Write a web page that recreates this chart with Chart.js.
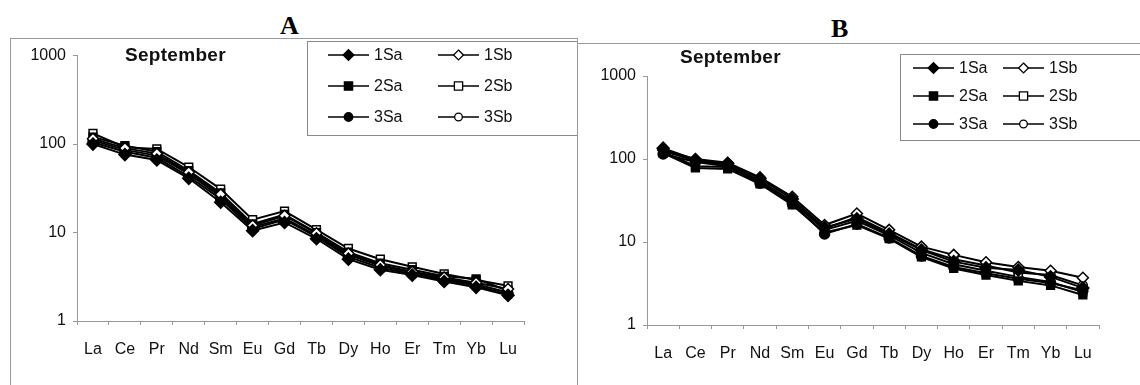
<!DOCTYPE html>
<html>
<head>
<meta charset="utf-8">
<script src="https://cdn.jsdelivr.net/npm/chart.js@4"></script>
<style>
  body { margin: 0; background: #fff; width: 1140px; height: 385px; position: relative; overflow: hidden; font-family: "Liberation Sans", Arial, sans-serif; }
  .panel { position: absolute; border: 1px solid #9a9a9a; box-sizing: border-box; }
  #panelA { left: 10px; top: 38px; width: 568px; height: 350px; }
  #panelB { left: 577px; top: 43px; width: 570px; height: 345px; }
  .letter { position: absolute; font-family: "Liberation Serif", "DejaVu Serif", serif; font-weight: bold; font-size: 26px; line-height: 26px; }
  .month { position: absolute; font-weight: bold; font-size: 19px; line-height: 19px; letter-spacing: 0.3px; color: #111; }
</style>
</head>
<body>
<div class="letter" style="left:280px; top:13px;">A</div>
<div class="letter" style="left:831px; top:16px;">B</div>
<div class="panel" id="panelA"><canvas id="chartA"></canvas></div>
<div class="panel" id="panelB"><canvas id="chartB"></canvas></div>
<div class="month" style="left:125px; top:45px;">September</div>
<div class="month" style="left:680px; top:47px;">September</div>
<script>
// Categories and axis ticks
const elements = ['La', 'Ce', 'Pr', 'Nd', 'Sm', 'Eu', 'Gd', 'Tb', 'Dy', 'Ho', 'Er', 'Tm', 'Yb', 'Lu'];
const yTicks = [1, 10, 100, 1000];
const seriesNames = ['1Sa', '1Sb', '2Sa', '2Sb', '3Sa', '3Sb'];

// Panel A values
const a1Sa = [100, 76, 66, 41, 22, 10.5, 13, 8.5, 5.0, 3.8, 3.3, 2.8, 2.4, 1.95];
const a1Sb = [115, 90, 78, 48, 27, 12, 15.5, 9.8, 5.8, 4.3, 3.6, 3.1, 2.7, 2.3];
const a2Sa = [120, 96, 82, 50, 28, 12.5, 16, 10, 6.0, 4.5, 3.8, 3.2, 3.0, 2.2];
const a2Sb = [132, 92, 88, 55, 31, 14, 17.5, 10.8, 6.6, 5.0, 4.1, 3.4, 2.9, 2.5];
const a3Sa = [105, 82, 70, 43, 24, 11, 14, 9, 5.3, 4.0, 3.4, 2.9, 2.5, 2.0];
const a3Sb = [110, 86, 74, 46, 25.5, 11.5, 14.5, 9.3, 5.6, 4.2, 3.5, 3.0, 2.6, 2.1];

// Panel B values
const b1Sa = [135, 98, 88, 58, 33, 15, 19, 12.5, 8.0, 5.8, 4.9, 4.6, 3.8, 2.8];
const b1Sb = [128, 100, 90, 60, 35, 16, 22, 14, 8.8, 7.0, 5.7, 5.0, 4.5, 3.7];
const b2Sa = [118, 78, 76, 50, 28, 13, 16, 11, 6.6, 4.8, 4.0, 3.4, 3.0, 2.3];
const b2Sb = [122, 82, 80, 53, 30, 14, 18, 12, 7.4, 5.4, 4.5, 3.8, 3.3, 2.5];
const b3Sa = [115, 92, 82, 51, 29, 12.5, 16.5, 11.2, 6.8, 5.0, 4.2, 3.6, 3.2, 2.6];
const b3Sb = [125, 95, 85, 55, 31, 14.5, 20, 13, 8.2, 6.2, 5.2, 4.3, 4.0, 3.0];

// marker shape and fill per series
const markers = {
  '1Sa': { style: 'rectRot', r: 6, filled: true },
  '1Sb': { style: 'rectRot', r: 5.5, filled: false },
  '2Sa': { style: 'rect', r: 5.5, filled: true },
  '2Sb': { style: 'rect', r: 5.5, filled: false },
  '3Sa': { style: 'circle', r: 5, filled: true },
  '3Sb': { style: 'circle', r: 4.5, filled: false }
};

function makeDatasets(values) {
  return seriesNames.map((name, i) => {
    const m = markers[name];
    return {
      label: name,
      data: values[i],
      borderColor: '#000',
      borderWidth: 2,
      pointStyle: m.style,
      pointRadius: m.r,
      pointBackgroundColor: m.filled ? '#000' : '#fff',
      pointBorderColor: '#000',
      pointBorderWidth: 1.5,
      tension: 0
    };
  });
}

function drawMarker(ctx, m, x, y) {
  ctx.save();
  ctx.fillStyle = m.filled ? '#000' : '#fff';
  ctx.strokeStyle = '#000';
  ctx.lineWidth = 1.3;
  ctx.beginPath();
  if (m.style === 'rectRot') {
    const r = m.r * 0.9;
    ctx.moveTo(x, y - r); ctx.lineTo(x + r, y); ctx.lineTo(x, y + r); ctx.lineTo(x - r, y); ctx.closePath();
  } else if (m.style === 'rect') {
    const s = m.r * 0.75;
    ctx.rect(x - s, y - s, s * 2, s * 2);
  } else {
    ctx.arc(x, y, m.r * 0.85, 0, Math.PI * 2);
  }
  ctx.fill();
  ctx.stroke();
  ctx.restore();
}

// Excel-style boxed legend in two columns
const boxLegend = {
  id: 'boxLegend',
  afterDraw(chart, args, opts) {
    const ctx = chart.ctx;
    ctx.save();
    ctx.fillStyle = '#fff';
    ctx.fillRect(opts.box[0], opts.box[1], opts.box[2], opts.box[3]);
    ctx.strokeStyle = '#8a8a8a';
    ctx.lineWidth = 1;
    ctx.strokeRect(opts.box[0] + 0.5, opts.box[1] + 0.5, opts.box[2], opts.box[3]);
    ctx.font = '16px "Liberation Sans", Arial, sans-serif';
    ctx.textBaseline = 'middle';
    chart.data.datasets.forEach((ds, i) => {
      const col = i % 2, row = Math.floor(i / 2);
      const lx = opts.cols[col], ly = opts.rows[row];
      ctx.strokeStyle = '#000';
      ctx.lineWidth = 1.5;
      ctx.beginPath();
      ctx.moveTo(lx, ly); ctx.lineTo(lx + opts.lineLen, ly);
      ctx.stroke();
      drawMarker(ctx, markers[ds.label], lx + opts.lineLen / 2, ly);
      ctx.fillStyle = '#111';
      ctx.fillText(ds.label, lx + opts.lineLen + 5, ly + 1);
    });
    ctx.restore();
  }
};

function makeChart(id, values, layout) {
  return new Chart(document.getElementById(id), {
    type: 'line',
    data: { labels: elements, datasets: makeDatasets(values) },
    plugins: [boxLegend],
    options: {
      responsive: true,
      maintainAspectRatio: false,
      animation: false,
      layout: { padding: layout.padding },
      plugins: {
        legend: { display: false },
        tooltip: { enabled: false },
        boxLegend: layout.legend
      },
      scales: {
        x: {
          offset: true,
          afterFit: s => { s.height = 40; },
          grid: { drawOnChartArea: false, drawTicks: true, tickLength: 4, offset: true, color: '#999' },
          border: { color: '#999', width: 1 },
          ticks: { color: '#111', padding: 15, autoSkip: false, maxRotation: 0, font: { size: 16, family: '"Liberation Sans", Arial, sans-serif' } }
        },
        y: {
          type: 'logarithmic',
          min: 1,
          max: 1000,
          afterFit: s => { s.width = layout.yWidth; },
          afterBuildTicks: axis => { axis.ticks = yTicks.map(v => ({ value: v })); },
          grid: { drawOnChartArea: false, drawTicks: true, tickLength: 4, color: '#999' },
          border: { color: '#999', width: 1 },
          ticks: { color: '#111', padding: 7, callback: v => String(v), font: { size: 16, family: '"Liberation Sans", Arial, sans-serif' } }
        }
      }
    }
  });
}

makeChart('chartA', [a1Sa, a1Sb, a2Sa, a2Sb, a3Sa, a3Sb], {
  yWidth: 66,
  padding: { left: 0, top: 15, right: 53, bottom: 26 },
  legend: { box: [296, 2, 280, 94], cols: [317, 427], rows: [16, 47, 78], lineLen: 41 }
});

makeChart('chartB', [b1Sa, b1Sb, b2Sa, b2Sb, b3Sa, b3Sb], {
  yWidth: 69,
  padding: { left: 0, top: 32, right: 47, bottom: 22 },
  legend: { box: [322, 10, 260, 86], cols: [335, 425], rows: [24, 52, 80], lineLen: 41 }
});
</script>
</body>
</html>
